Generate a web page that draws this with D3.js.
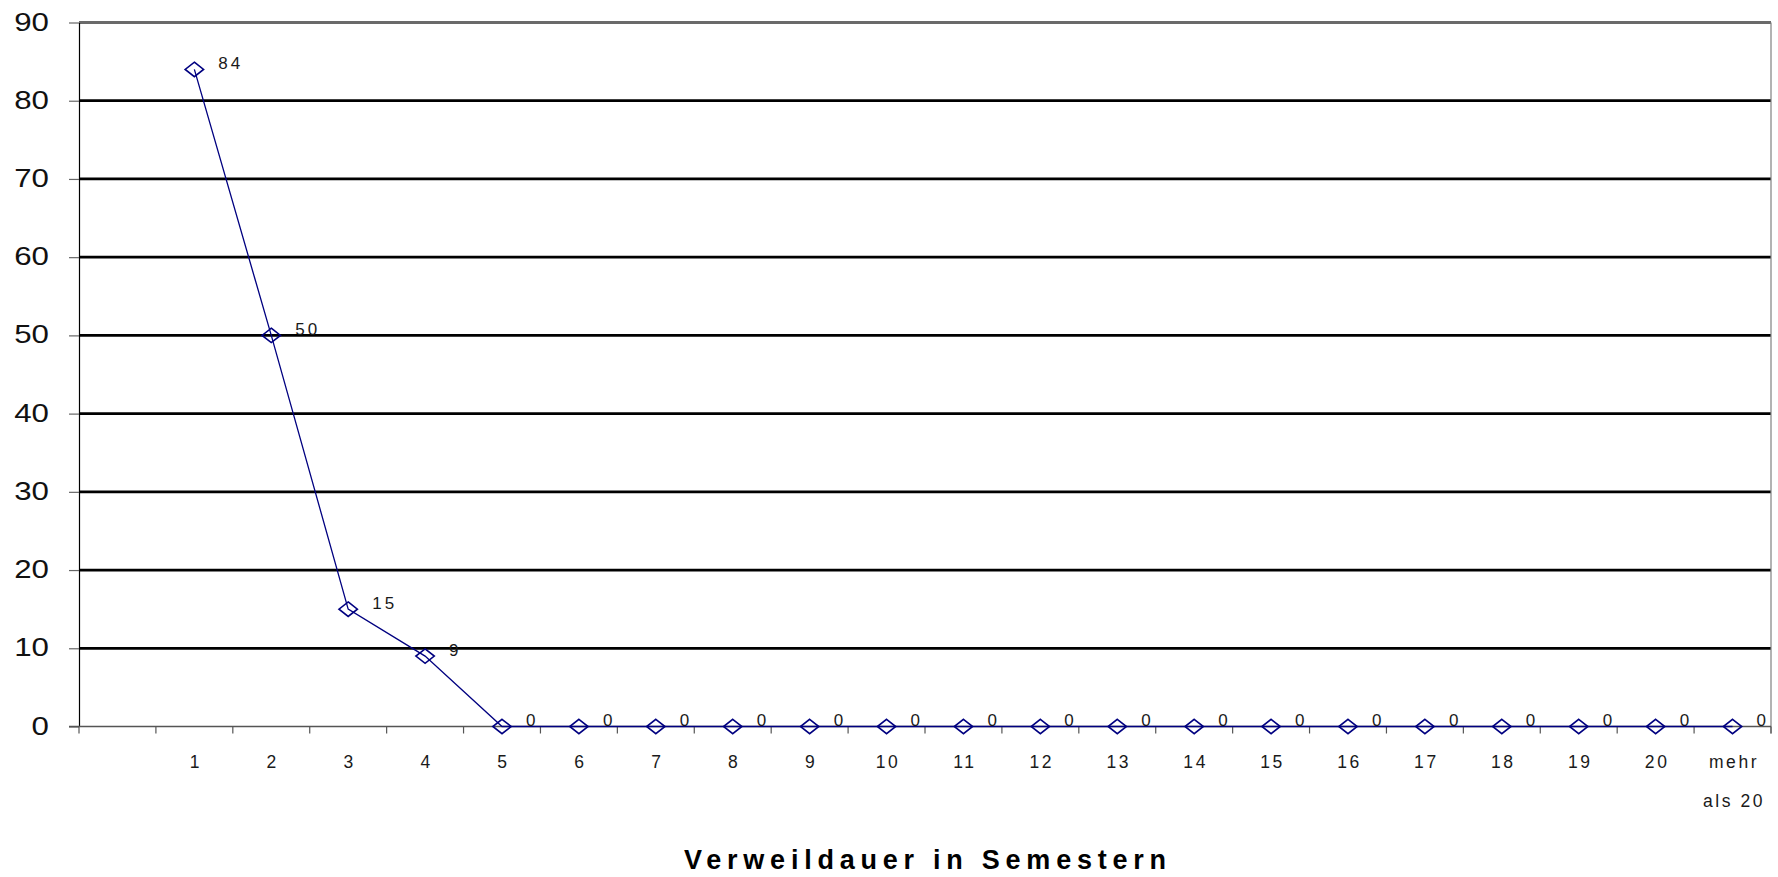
<!DOCTYPE html>
<html>
<head>
<meta charset="utf-8">
<script src="https://cdn.jsdelivr.net/npm/d3@7"></script>
<style>
  html, body { margin: 0; padding: 0; background: #fff; }
  svg { display: block; }
  text { font-family: "Liberation Sans", Arial, sans-serif; }
</style>
</head>
<body>
<svg id="chart" width="1778" height="877"></svg>
<script>
// ---- data ----
const categories = ["", "1", "2", "3", "4", "5", "6", "7", "8", "9", "10",
  "11", "12", "13", "14", "15", "16", "17", "18", "19", "20", "mehr als 20"];
const values = [null, 84, 50, 15, 9, 0, 0, 0, 0, 0, 0,
  0, 0, 0, 0, 0, 0, 0, 0, 0, 0, 0];
const yTicks = [0, 10, 20, 30, 40, 50, 60, 70, 80, 90];
const xTitle = "Verweildauer in Semestern";

// ---- layout ----
const plotLeft = 79, plotRight = 1771, plotTop = 22.5, plotBottom = 726.5;
const svg = d3.select("#chart");

const x = d3.scaleBand().domain(categories).range([plotLeft, plotRight]).padding(0);
const y = d3.scaleLinear().domain([0, 90]).range([plotBottom, plotTop]);
const bw = x.bandwidth();
const cx = c => x(c) + bw / 2;

// gridlines
svg.append("g").selectAll("line")
  .data(yTicks.filter(t => t > 0))
  .join("line")
  .attr("x1", plotLeft).attr("x2", plotRight)
  .attr("y1", d => y(d)).attr("y2", d => y(d))
  .attr("stroke", d => d === 90 ? "#6a6a6a" : "#000")
  .attr("stroke-width", 2.8);

// right border
svg.append("line")
  .attr("x1", plotRight).attr("x2", plotRight)
  .attr("y1", y(90)).attr("y2", y(0) + 7)
  .attr("stroke", "#808080").attr("stroke-width", 1.2);

// y axis
const yAxis = svg.append("g")
  .attr("transform", `translate(${plotLeft},0)`)
  .call(d3.axisLeft(y).tickValues(yTicks).tickSize(10).tickSizeOuter(0));
yAxis.select(".domain").attr("stroke", "#000").attr("stroke-width", 1.2);
yAxis.selectAll(".tick line").attr("stroke", "#666").attr("stroke-width", 1.2);
yAxis.selectAll(".tick text")
  .attr("x", null)
  .attr("dy", "0.3em")
  .attr("transform", "translate(-30,0) scale(1.25,1)")
  .attr("font-size", 25)
  .attr("fill", "#111")
  .attr("text-anchor", "end");

// x axis line + boundary ticks
svg.append("line")
  .attr("x1", plotLeft - 10).attr("x2", plotRight)
  .attr("y1", y(0)).attr("y2", y(0))
  .attr("stroke", "#555").attr("stroke-width", 1.5);
const boundaries = categories.map(c => x(c)).concat([plotRight]);
svg.append("g").selectAll("line")
  .data(boundaries)
  .join("line")
  .attr("x1", d => d).attr("x2", d => d)
  .attr("y1", y(0)).attr("y2", y(0) + 7)
  .attr("stroke", "#555").attr("stroke-width", 1.2);

// x tick labels
const xl = svg.append("g").selectAll("text")
  .data(categories.filter(c => c !== ""))
  .join("text")
  .attr("x", d => cx(d) + 1.5)
  .attr("y", 768)
  .attr("text-anchor", "middle")
  .attr("font-size", 17.5)
  .attr("letter-spacing", 2.6)
  .attr("fill", "#1a1a1a");
xl.each(function(d) {
  const words = d.split(" ");
  const t = d3.select(this);
  if (words.length > 2) {
    t.append("tspan").attr("x", cx(d) + 1.5).attr("dy", 0).text(words[0]);
    t.append("tspan").attr("x", cx(d) + 1.5).attr("dy", 39).text(words.slice(1).join(" "));
  } else {
    t.text(d);
  }
});

// line
const pts = categories.map((c, i) => ({c, v: values[i]}));
const line = d3.line()
  .defined(d => d.v != null)
  .x(d => cx(d.c))
  .y(d => y(d.v));
svg.append("path")
  .datum(pts)
  .attr("d", line)
  .attr("fill", "none")
  .attr("stroke", "#000080")
  .attr("stroke-width", 1.3);

// markers
const valid = pts.filter(d => d.v != null);
svg.append("g").selectAll("path")
  .data(valid)
  .join("path")
  .attr("transform", d => `translate(${cx(d.c)},${y(d.v)})`)
  .attr("d", "M0,-7.2 L9.2,0 L0,7.2 L-9.2,0 Z")
  .attr("fill", "none")
  .attr("stroke", "#000080")
  .attr("stroke-width", 1.6);

// data labels
svg.append("g").selectAll("text")
  .data(valid)
  .join("text")
  .attr("x", d => cx(d.c) + 24)
  .attr("y", d => y(d.v) - 0.5)
  .attr("font-size", 17)
  .attr("letter-spacing", 3)
  .attr("fill", "#1a1a1a")
  .text(d => d.v);

// title
svg.append("text")
  .attr("x", 925)
  .attr("y", 869)
  .attr("text-anchor", "middle")
  .attr("font-size", 27)
  .attr("font-weight", "bold")
  .attr("textLength", 482)
  .attr("lengthAdjust", "spacing")
  .attr("fill", "#000")
  .text(xTitle);
</script>
</body>
</html>
